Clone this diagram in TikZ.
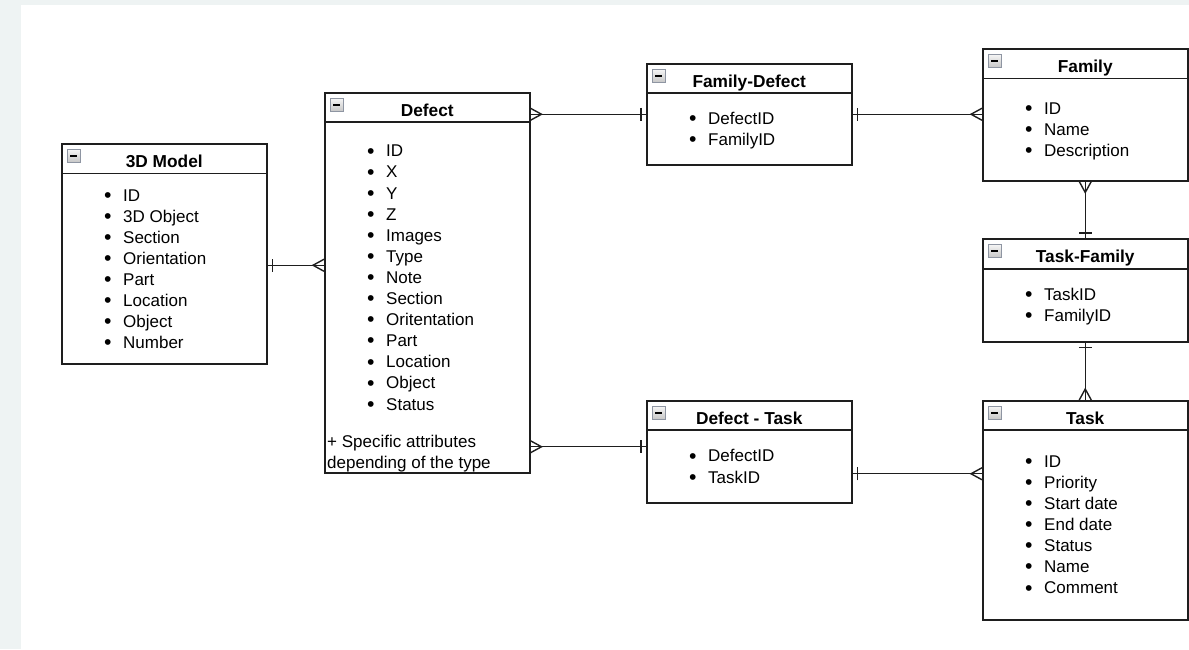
\documentclass[tikz,border=0pt]{standalone}
\usepackage{fontspec}
\setmainfont{Liberation Sans}
\usepackage{xcolor}
\usepackage{tikz}
\usetikzlibrary{calc}

\definecolor{pagegray}{HTML}{EEF3F3}
\definecolor{linecol}{HTML}{1E1E1E}
\definecolor{iconedge}{HTML}{8E95A2}

\newcommand{\itm}[1]{\strut\makebox[19pt][l]{\raisebox{-1.2pt}{\scalebox{1.25}{\textbullet}}}#1}

\tikzset{
  frame/.style={draw=linecol, line width=1.5pt},
  entity/.style={frame, fill=white, anchor=north west, inner sep=0pt, minimum width=205pt},
  head/.style={frame, anchor=north west, inner sep=0pt, minimum width=205pt, minimum height=29.5pt,
    text height=18pt, text depth=0pt, font=\fontsize{17.3}{21}\selectfont\bfseries},
  icon/.style={draw=iconedge, line width=0.9pt, top color=gray!8, bottom color=gray!45,
    anchor=north west, minimum size=13pt, inner sep=0pt,
    path picture={\draw[black, line width=1.6pt] ([xshift=3pt]path picture bounding box.west) -- ([xshift=-3pt]path picture bounding box.east);}},
  items/.style={anchor=north west, align=left, inner sep=0pt, font=\fontsize{17}{21.1}\selectfont},
  conn/.style={draw=linecol, line width=1.4pt},
  one/.pic={\draw[conn] (-5,-6.5) -- (-5,6.5);},
  many/.pic={\draw[conn] (0,-6) -- (-11,0) -- (0,6);}
}

\begin{document}
\begin{tikzpicture}[x=1pt,y=-1pt]
\fill[pagegray] (0,0) rectangle (1189,649);
\fill[white] (21,5) rectangle (1189,649);
\useasboundingbox (0,0) rectangle (1189,649);

\node[entity, minimum height=220pt] (model) at (61,143) {};
\node[head] (modelhead) at (model.north west) {3D Model};
\node[icon] (modelicon) at ([shift={(6,6)}]model.north west) {};
\node[items] (modellist) at ([shift={(43,43.1)}]model.north west) {\itm{ID}\\ \itm{3D Object}\\ \itm{Section}\\ \itm{Orientation}\\ \itm{Part}\\ \itm{Location}\\ \itm{Object}\\ \itm{Number}};

\node[entity, minimum height=380pt] (defect) at (324,92) {};
\node[head, minimum height=29pt] (defecthead) at (defect.north west) {Defect};
\node[icon] (defecticon) at ([shift={(6,6)}]defect.north west) {};
\node[items] (defectlist) at ([shift={(43,49.9)}]defect.north west) {\itm{ID}\\ \itm{X}\\ \itm{Y}\\ \itm{Z}\\ \itm{Images}\\ \itm{Type}\\ \itm{Note}\\ \itm{Section}\\ \itm{Oritentation}\\ \itm{Part}\\ \itm{Location}\\ \itm{Object}\\ \itm{Status}};
\node[items] (defectnote) at ([shift={(3,340.5)}]defect.north west) {\strut+ Specific attributes\\ \strut depending of the type};

\node[entity, minimum height=101pt] (fd) at (646,63) {};
\node[head, minimum height=29pt] (fdhead) at (fd.north west) {Family-Defect};
\node[icon] (fdicon) at ([shift={(6,6)}]fd.north west) {};
\node[items] (fdlist) at ([shift={(43,46.3)}]fd.north west) {\itm{DefectID}\\ \itm{FamilyID}};

\node[entity, minimum height=132pt] (family) at (982,48) {};
\node[head] (familyhead) at (family.north west) {Family};
\node[icon] (familyicon) at ([shift={(6,6)}]family.north west) {};
\node[items] (familylist) at ([shift={(43,51.6)}]family.north west) {\itm{ID}\\ \itm{Name}\\ \itm{Description}};

\node[entity, minimum height=103pt] (tf) at (982,238) {};
\node[head, minimum height=30pt] (tfhead) at (tf.north west) {Task-Family};
\node[icon] (tficon) at ([shift={(6,6)}]tf.north west) {};
\node[items] (tflist) at ([shift={(43,47.6)}]tf.north west) {\itm{TaskID}\\ \itm{FamilyID}};

\node[entity, minimum height=102pt] (dt) at (646,400) {};
\node[head, minimum height=29pt] (dthead) at (dt.north west) {Defect - Task};
\node[icon] (dticon) at ([shift={(6,6)}]dt.north west) {};
\node[items] (dtlist) at ([shift={(43,47)}]dt.north west) {\itm{DefectID}\\ \itm{TaskID}};

\node[entity, minimum height=219pt] (task) at (982,400) {};
\node[head, minimum height=29pt] (taskhead) at (task.north west) {Task};
\node[icon] (taskicon) at ([shift={(6,6)}]task.north west) {};
\node[items] (tasklist) at ([shift={(43,52.3)}]task.north west) {\itm{ID}\\ \itm{Priority}\\ \itm{Start date}\\ \itm{End date}\\ \itm{Status}\\ \itm{Name}\\ \itm{Comment}};

\coordinate (modelout) at ([yshift=-11.5pt]model.east);
\draw[conn] (modelout) -- (modelout -| defect.west);
\pic[rotate=180] at (modelout) {one};
\pic at (modelout -| defect.west) {many};

\draw[conn] (fd.west -| defect.east) -- (fd.west);
\pic[rotate=180] at (fd.west -| defect.east) {many};
\pic at (fd.west) {one};

\draw[conn] (fd.east) -- (fd.east -| family.west);
\pic[rotate=180] at (fd.east) {one};
\pic at (fd.east -| family.west) {many};

\draw[conn] (family.south) -- (tf.north);
\pic[rotate=90] at (family.south) {many};
\pic[rotate=-90] at (tf.north) {one};

\draw[conn] (tf.south) -- (task.north);
\pic[rotate=90] at (tf.south) {one};
\pic[rotate=-90] at (task.north) {many};

\coordinate (dtin) at ([yshift=5pt]dt.west);
\draw[conn] (dtin -| defect.east) -- (dtin);
\pic[rotate=180] at (dtin -| defect.east) {many};
\pic at (dtin) {one};

\coordinate (dtout) at ([yshift=-22pt]dt.east);
\draw[conn] (dtout) -- (dtout -| task.west);
\pic[rotate=180] at (dtout) {one};
\pic at (dtout -| task.west) {many};
\end{tikzpicture}
\end{document}
